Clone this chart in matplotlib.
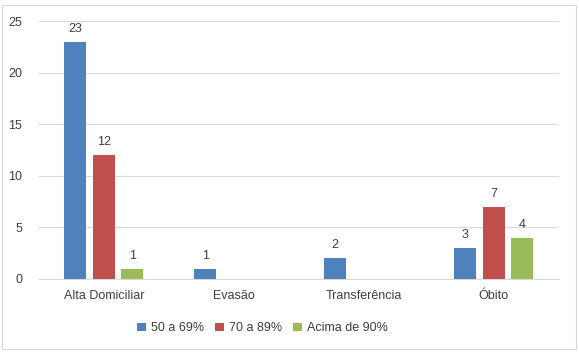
import matplotlib.pyplot as plt
import numpy as np
from matplotlib.patches import Rectangle

plt.rcParams['font.family'] = ['Liberation Sans', 'DejaVu Sans']

categorias = ['Alta Domiciliar', 'Evasão', 'Transferência', 'Óbito']
series = ['50 a 69%', '70 a 89%', 'Acima de 90%']
v_50_69 = [23, 1, 2, 3]
v_70_89 = [12, 0, 0, 7]
v_90 = [1, 0, 0, 4]
cores = ['#4F81BD', '#C0504D', '#9BBB59']

fig = plt.figure(figsize=(5.79, 3.53), dpi=100)
ax = fig.add_axes([0.067, 0.21, 0.898, 0.73])

x = np.arange(len(categorias))
largura = 0.17
passo = 0.22
texto = '#404040'

for k, (nome, vals) in enumerate(zip(series, [v_50_69, v_70_89, v_90])):
    pos = x + (k - 1) * passo
    ax.bar(pos, vals, largura, color=cores[k], label=nome, zorder=3)
    for p, v in zip(pos, vals):
        if v > 0:
            ax.annotate(str(v), (p, v), xytext=(0, 5), textcoords='offset points',
                        ha='center', va='bottom', fontsize=9, color=texto)

ax.set_xlim(-0.5, 3.5)
ax.set_ylim(0, 25)
ax.set_yticks([0, 5, 10, 15, 20, 25])
ax.set_xticks(x)
ax.set_xticklabels(categorias)
ax.yaxis.grid(True, color='#D9D9D9', linewidth=0.8, zorder=0)
for s in ['top', 'right', 'left']:
    ax.spines[s].set_visible(False)
ax.spines['bottom'].set_color('#D9D9D9')
ax.spines['bottom'].set_linewidth(0.8)
ax.tick_params(axis='both', length=0, labelsize=9, colors=texto, pad=8)
ax.tick_params(axis='y', pad=12)

ax.legend(loc='upper center', bbox_to_anchor=(0.43, -0.125), ncol=3, frameon=False,
          fontsize=9, handlelength=0.7, handleheight=0.7, handletextpad=0.4,
          columnspacing=0.9, labelcolor=texto)

fig.patches.append(Rectangle((0.004, 0.012), 0.991, 0.975, transform=fig.transFigure,
                             fill=False, edgecolor='#D9D9D9', linewidth=0.8))

fig.savefig('out.png', dpi=100)
